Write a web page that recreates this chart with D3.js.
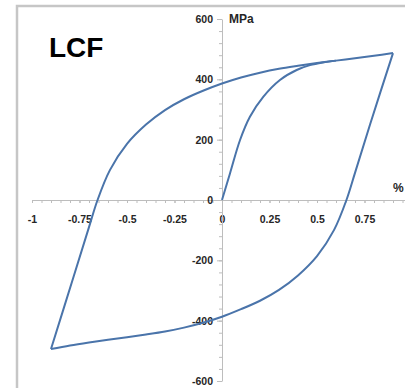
<!DOCTYPE html>
<html>
<head>
<meta charset="utf-8">
<script src="https://cdn.jsdelivr.net/npm/d3@7"></script>
<style>
	body { margin: 0; background: #fff; }
	svg { display: block; font-family: "Liberation Sans", Arial, sans-serif; }
	.tk text { font-size: 10.5px; font-weight: bold; fill: #262626; }
</style>
</head>
<body>
<div id="graphic"></div>
<script>

// strain (%) / stress (MPa)
let load_strain  = [ 0, 0.042, 0.095, 0.147, 0.217, 0.305, 0.393, 0.463, 0.53, 0.6 ];
let load_stress  = [ 0, 88, 199, 276, 342, 398, 431, 447, 456, 462 ];

// reloading branch, lower-left corner up to the peak
let up_strain    = [ -0.90, -0.78, -0.70, -0.655, -0.59, -0.5, -0.4, -0.3, -0.2, -0.1, 0, 0.1, 0.2, 0.3, 0.4, 0.5, 0.6, 0.7, 0.8, 0.90 ];
let up_stress    = [ -494, -252, -90, 0, 99, 186, 250, 298, 334, 362, 386, 406, 422, 435, 445, 454, 462, 470, 478, 487 ];

// unloading branch, listed left to right (corner ... peak)
let down_strain  = [ -0.90, -0.8, -0.7, -0.6, -0.5, -0.4, -0.3, -0.2, -0.1, 0, 0.1, 0.2, 0.3, 0.4, 0.5, 0.59, 0.655, 0.70, 0.78, 0.90 ];
let down_stress  = [ -494, -482, -472, -463, -455, -446, -436, -423, -407, -387, -362, -334, -298, -250, -186, -99, 0, 90, 252, 487 ];

let x_ticks      = [ -1, -0.75, -0.5, -0.25, 0, 0.25, 0.5, 0.75 ];
let x_labels     = [ "-1", "-0.75", "-0.5", "-0.25", "0", "0.25", "0.5", "0.75" ];
let y_ticks      = [ -600, -400, -200, 0, 200, 400, 600 ];
let y_labels     = [ "-600", "-400", "-200", "0", "200", "400", "600" ];

///////////////////////////////////////////////////////////////////////

let width = 405, height = 388;
let axis_color = "#bdbdbd";
let line_color = "#4a74aa";

let svg = d3.select( "#graphic" )
	.append( "svg" )
		.attr( "width", width )
		.attr( "height", height );

// frame (only left and top edges show)
svg.append( "path" )
	.attr( "d", "M17,388V6H405" )
	.attr( "fill", "none" )
	.attr( "stroke", "#c6c6c6" )
	.attr( "stroke-width", 2.5 );

let x = d3.scaleLinear().domain( [ -1, 1 ] ).range( [ 32, 412 ] );
let y = d3.scaleLinear().domain( [ -600, 600 ] ).range( [ 381, 19 ] );

function style_axis( g )	{
	g.select( ".domain" ).attr( "stroke", axis_color );
	g.selectAll( ".tick line" ).attr( "stroke", axis_color );
	g.attr( "class", "tk" );
}

// x axis: minor ticks, then labelled ticks
svg.append( "g" )
	.attr( "transform", `translate(0,${ y( 0 ) })` )
	.call( d3.axisBottom( x ).tickValues( d3.range( -20, 20 ).map( i => i / 20 ) ).tickSize( 3 ).tickFormat( "" ) )
	.call( style_axis );

svg.append( "g" )
	.attr( "transform", `translate(0,${ y( 0 ) })` )
	.call( d3.axisBottom( x ).tickValues( x_ticks ).tickSize( 3 ).tickPadding( 13 )
		.tickFormat( ( d, i ) => x_labels[ i ] ) )
	.call( style_axis )
	.call( g => g.select( ".domain" ).remove() );

// y axis
svg.append( "g" )
	.attr( "transform", `translate(${ x( 0 ) },0)` )
	.call( d3.axisLeft( y ).tickValues( d3.range( -15, 16 ).map( i => i * 40 ) ).tickSize( 3 ).tickFormat( "" ).tickSizeOuter( 0 ) )
	.call( style_axis );

svg.append( "g" )
	.attr( "transform", `translate(${ x( 0 ) },0)` )
	.call( d3.axisLeft( y ).tickValues( y_ticks ).tickSize( 5 ).tickPadding( 4 )
		.tickFormat( ( d, i ) => y_labels[ i ] ) )
	.call( style_axis )
	.call( g => g.select( ".domain" ).remove() );

// curves
let line = d3.line()
	.x( d => x( d[ 0 ] ) )
	.y( d => y( d[ 1 ] ) )
	.curve( d3.curveCatmullRom.alpha( 0.5 ) );

let branches = [
	d3.zip( load_strain, load_stress ),
	d3.zip( up_strain, up_stress ),
	d3.zip( down_strain, down_stress )
];

svg.append( "g" )
	.selectAll( "path" )
	.data( branches )
	.join( "path" )
		.attr( "d", line )
		.attr( "fill", "none" )
		.attr( "stroke", line_color )
		.attr( "stroke-width", 2 )
		.attr( "stroke-linejoin", "round" );

// texts
svg.append( "text" )
	.attr( "x", 49 ).attr( "y", 57 )
	.attr( "font-size", 28 ).attr( "font-weight", "bold" )
	.attr( "fill", "#000" )
	.text( "LCF" );

svg.append( "text" )
	.attr( "x", 229 ).attr( "y", 23 )
	.attr( "font-size", 12 ).attr( "font-weight", "bold" )
	.attr( "fill", "#262626" )
	.text( "MPa" );

svg.append( "text" )
	.attr( "x", 393 ).attr( "y", 192 )
	.attr( "font-size", 12 ).attr( "font-weight", "bold" )
	.attr( "fill", "#262626" )
	.text( "%" );

</script>
</body>
</html>
